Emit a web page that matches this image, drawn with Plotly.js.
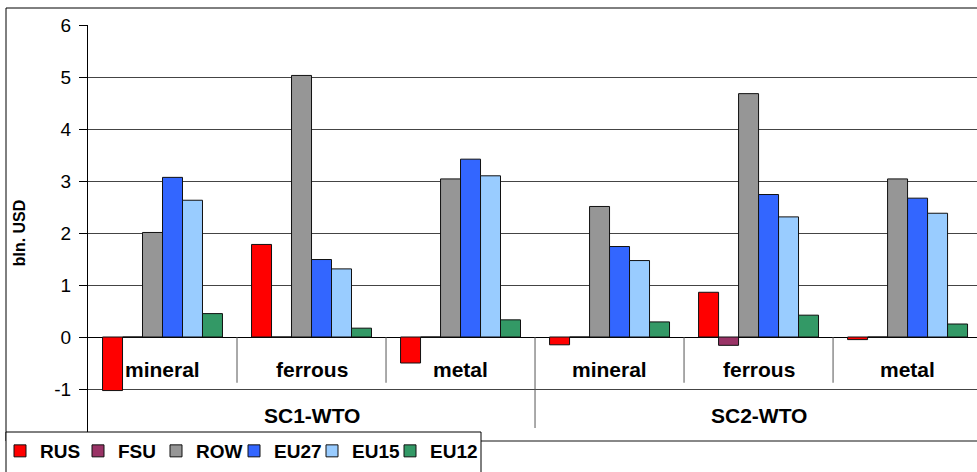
<!DOCTYPE html>
<html>
<head>
<meta charset="utf-8">
<script src="https://cdn.plot.ly/plotly-3.0.1.min.js"></script>
<style>
html,body{margin:0;padding:0;background:#fff;}
#chart{width:977px;height:472px;}
</style>
</head>
<body>
<div id="chart"></div>
<script>
// ---- data ----
var scenarios = ["SC1-WTO", "SC1-WTO", "SC1-WTO", "SC2-WTO", "SC2-WTO", "SC2-WTO"];
var products  = ["mineral", "ferrous", "metal", "mineral", "ferrous", "metal"];
var seriesNames = ["RUS", "FSU", "ROW", "EU27", "EU15", "EU12"];
var RUS  = [-1.03, 1.78, -0.50, -0.15, 0.86, -0.05];
var FSU  = [0, 0, 0, 0, -0.16, 0];
var ROW  = [2.01, 5.03, 3.04, 2.51, 4.68, 3.04];
var EU27 = [3.07, 1.49, 3.42, 1.74, 2.74, 2.67];
var EU15 = [2.63, 1.31, 3.10, 1.47, 2.31, 2.38];
var EU12 = [0.45, 0.17, 0.33, 0.29, 0.42, 0.25];
var yTicks = [-1, 0, 1, 2, 3, 4, 5, 6];
var yTitle = "bln. USD";

// ---- styling ----
var colors = ["#FF0000", "#993366", "#969696", "#3366FF", "#99CCFF", "#339966"];
var values = [RUS, FSU, ROW, EU27, EU15, EU12];
var cats = scenarios.map(function (s, i) { return s + " " + products[i]; });

var traces = values.map(function (v, k) {
  var t = {
    type: "bar",
    name: seriesNames[k],
    x: cats,
    y: v,
    marker: { color: colors[k], line: { color: "#111", width: 1 } },
    hoverinfo: "name+y"
  };
  if (k === values.length - 1) { t.legendwidth = 52; }
  return t;
});

var W = 977, H = 472;
var L = 88, T = 25, B = 441;
function px(xp) { return (xp - L) / (W - L); }
function py(yp) { return (B - yp) / (B - T); }

var shapes = [];
// dividers between products
[0.5, 1.5, 3.5, 4.5].forEach(function (xv) {
  shapes.push({ type: "line", xref: "x", yref: "y", x0: xv, x1: xv, y0: 0, y1: -0.88,
    line: { color: "#555", width: 1 } });
});
// divider between scenarios
shapes.push({ type: "line", xref: "x", yref: "y", x0: 2.5, x1: 2.5, y0: 0, y1: -1.75,
  line: { color: "#555", width: 1 } });
// outer frame
shapes.push({ type: "line", xref: "paper", yref: "paper", x0: px(6), x1: px(6), y0: py(441), y1: py(8),
  line: { color: "#000", width: 1 } });
shapes.push({ type: "line", xref: "paper", yref: "paper", x0: px(6), x1: 1.01, y0: py(8), y1: py(8),
  line: { color: "#000", width: 1 } });
shapes.push({ type: "line", xref: "paper", yref: "paper", x0: px(6), x1: 1.01, y0: py(441), y1: py(441),
  line: { color: "#888", width: 2 } });
// legend box (frame behind the legend entries)
shapes.push({ type: "rect", xref: "paper", yref: "paper", layer: "above",
  x0: px(6), x1: px(481), y0: py(432), y1: py(480),
  fillcolor: "#fff", line: { color: "#000", width: 1 } });

var labelFont = { family: "Liberation Sans, Arial, sans-serif", size: 21, color: "#000", weight: "bold" };
var annotations = [];
products.forEach(function (p, i) {
  annotations.push({ xref: "x", yref: "y", x: i, y: -0.63, text: p, showarrow: false,
    font: labelFont, xanchor: "center", yanchor: "middle" });
});
annotations.push({ xref: "x", yref: "y", x: 1, y: -1.5, text: scenarios[0], showarrow: false, font: labelFont });
annotations.push({ xref: "x", yref: "y", x: 4, y: -1.5, text: scenarios[3], showarrow: false, font: labelFont });

var layout = {
  width: W, height: H,
  margin: { l: L, r: 0, t: T, b: H - B, pad: 0, autoexpand: false },
  paper_bgcolor: "#fff", plot_bgcolor: "#fff",
  font: { family: "Liberation Sans, Arial, sans-serif", color: "#000" },
  barmode: "group",
  bargap: 0.195,
  bargroupgap: 0,
  showlegend: true,
  legend: {
    orientation: "h",
    xref: "container", yref: "container",
    x: -5 / W, y: 1 - 432 / H,
    xanchor: "left", yanchor: "top",
    bgcolor: "rgba(0,0,0,0)", borderwidth: 0,
    font: { family: "Liberation Sans, Arial, sans-serif", size: 19, color: "#000", weight: "bold" },
    itemwidth: 30,
    entrywidth: 33,
    entrywidthmode: "pixels",
    traceorder: "normal"
  },
  xaxis: {
    type: "category",
    range: [-0.5, 5.466],
    showticklabels: false,
    showgrid: false,
    zeroline: false,
    showline: false,
    ticks: "",
    fixedrange: true
  },
  yaxis: {
    range: [-2, 6],
    tickvals: yTicks,
    ticktext: yTicks.map(String),
    showgrid: true,
    gridcolor: "#444",
    gridwidth: 1,
    zeroline: true,
    zerolinecolor: "#000",
    zerolinewidth: 1,
    showline: true,
    linecolor: "#000",
    linewidth: 1,
    ticks: "outside",
    ticklen: 8,
    tickcolor: "#000",
    ticklabelstandoff: 4,
    tickfont: { size: 19, color: "#000" },
    title: { text: yTitle, font: { size: 16, color: "#000", weight: "bold" }, standoff: 24 },
    automargin: false,
    fixedrange: true
  },
  shapes: shapes,
  annotations: annotations
};

Plotly.newPlot("chart", traces, layout, { displayModeBar: false, staticPlot: true });
</script>
</body>
</html>
